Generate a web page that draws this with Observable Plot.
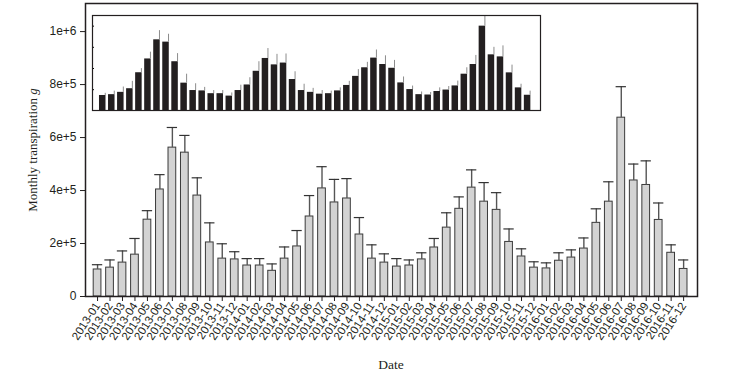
<!DOCTYPE html>
<html><head><meta charset="utf-8">
<script src="https://cdn.jsdelivr.net/npm/d3@7"></script>
<script src="https://cdn.jsdelivr.net/npm/@observablehq/plot@0.6"></script>
<style>
html,body{margin:0;padding:0;background:#fff;}
#wrap{position:relative;width:732px;height:371px;overflow:hidden;}
#wrap svg{position:absolute;left:0;top:0;}
</style></head><body><div id="wrap"></div>
<script>
const months = [
  "2013-01","2013-02","2013-03","2013-04","2013-05","2013-06","2013-07","2013-08","2013-09","2013-10","2013-11","2013-12",
  "2014-01","2014-02","2014-03","2014-04","2014-05","2014-06","2014-07","2014-08","2014-09","2014-10","2014-11","2014-12",
  "2015-01","2015-02","2015-03","2015-04","2015-05","2015-06","2015-07","2015-08","2015-09","2015-10","2015-11","2015-12",
  "2016-01","2016-02","2016-03","2016-04","2016-05","2016-06","2016-07","2016-08","2016-09","2016-10","2016-11","2016-12"
];
const values = [
  102000,109000,128000,158000,290000,404000,562000,543000,381000,204000,143000,140000,
  117000,117000,97000,143000,189000,302000,408000,355000,370000,234000,143000,128000,
  113000,117000,140000,185000,260000,331000,411000,358000,327000,206000,151000,109000,
  106000,135000,147000,181000,278000,358000,675000,438000,421000,289000,165000,104000
];
const errors = [
  18000,29000,44000,61000,34000,56000,76000,65000,67000,74000,56000,29000,
  26000,26000,26000,44000,60000,79000,82000,87000,75000,64000,52000,33000,
  30000,21000,25000,34000,56000,45000,67000,72000,65000,49000,29000,22000,
  21000,30000,29000,40000,53000,75000,117000,62000,91000,64000,30000,34000
];
const yTicks = [0, 200000, 400000, 600000, 800000, 1000000];
const yTickLabels = ["0","2e+5","4e+5","6e+5","8e+5","1e+6"];
const yDomain = [0, 1106000];
const insetTicks = [150000, 325000, 500000, 675000];
const insetDomain = [-22000, 763000];
const yLabel = "Monthly transpiration ";
const yLabelUnit = "g";
const xLabel = "Date";

const data = months.map((m, i) => ({month: m, value: values[i], upper: values[i] + errors[i]}));
const wrap = document.getElementById("wrap");

const main = Plot.plot({
  width: 732, height: 371,
  marginLeft: 85, marginRight: 35, marginTop: 3, marginBottom: 75,
  style: {fontFamily: "'Liberation Sans', Arial, sans-serif", fontSize: "11.5px", color: "#231f20", background: "transparent"},
  x: {type: "band", domain: months, paddingInner: 0.38, paddingOuter: 0.73, align: 0.45, round: false},
  y: {domain: yDomain},
  marks: [
    Plot.barY(data, {x: "month", y: "value", fill: "#d3d3d3", stroke: "#3a3a3a", strokeWidth: 1}),
    Plot.ruleX(data, {x: "month", y1: "value", y2: "upper", stroke: "#555", strokeWidth: 1.4}),
    Plot.tickY(data, {x: "month", y: "upper", stroke: "#333", strokeWidth: 1.2, insetLeft: -1.3, insetRight: -1.3}),
    Plot.axisY({ticks: yTicks, tickFormat: d => yTickLabels[yTicks.indexOf(d)], tickSize: 5, tickPadding: 4, label: null, fontSize: 12}),
    Plot.axisX({tickRotate: -57, tickSize: 5, tickPadding: 2, label: null}),
    Plot.frame({stroke: "#231f20", strokeWidth: 1.5})
  ]
});
wrap.appendChild(main);

const inset = Plot.plot({
  width: 732, height: 371,
  marginLeft: 92, marginRight: 192, marginTop: 15, marginBottom: 261,
  style: {background: "transparent"},
  x: {type: "band", domain: months, paddingInner: 0.28, paddingOuter: 0.92, align: 0.42, round: false, axis: null},
  y: {domain: insetDomain},
  marks: [
    Plot.barY(data, {x: "month", y1: insetDomain[0], y2: "value", fill: "#231f20", clip: true}),
    Plot.ruleX(data, {x: "month", y1: "value", y2: "upper", stroke: "#8c8c8c", strokeWidth: 1, dx: 2.5, clip: true}),
    Plot.axisY({ticks: insetTicks, tickSize: 2, dx: 2, tickFormat: () => "", label: null}),
    Plot.frame({stroke: "#231f20", strokeWidth: 1.2})
  ]
});
wrap.appendChild(inset);

const svg = d3.select(main);
const yl = svg.append("text")
  .attr("transform", "translate(37,150) rotate(-90)")
  .attr("text-anchor", "middle")
  .attr("font-family", "'Liberation Serif', 'Times New Roman', serif")
  .attr("font-size", 13)
  .attr("fill", "#231f20");
yl.append("tspan").text(yLabel);
yl.append("tspan").attr("font-style", "italic").text(yLabelUnit);
svg.append("text")
  .attr("x", 391).attr("y", 369)
  .attr("text-anchor", "middle")
  .attr("font-family", "'Liberation Serif', 'Times New Roman', serif")
  .attr("font-size", 13.5)
  .attr("fill", "#231f20")
  .text(xLabel);
</script></body></html>
